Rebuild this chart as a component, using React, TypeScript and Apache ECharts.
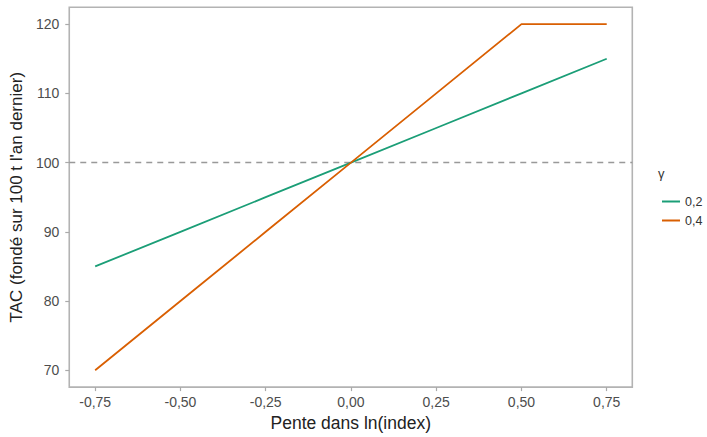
import React, { useEffect, useRef } from "react";
import * as echarts from "echarts";

const xValues = [-0.75, -0.5, -0.25, 0, 0.25, 0.5, 0.75];
const gamma02 = [85, 90, 95, 100, 105, 110, 115];
const gamma04 = [70, 80, 90, 100, 110, 120, 120];
const xTicks = [-0.75, -0.5, -0.25, 0, 0.25, 0.5, 0.75];
const yTicks = [70, 80, 90, 100, 110, 120];
const seriesNames = ["0,2", "0,4"];
const refLine = 100;

const FONT = "Liberation Sans, Arial, sans-serif";

export default function App() {
  const ref = useRef<HTMLDivElement>(null);
  useEffect(() => {
    if (!ref.current) return;
    const chart = echarts.init(ref.current, undefined, { renderer: "svg" });
    const fmt = (v: number) => v.toFixed(2).replace(".", ",");
    chart.setOption({
      animation: false,
      textStyle: { fontFamily: FONT },
      grid: {
        left: 69,
        right: 74.7,
        top: 7.3,
        bottom: 46,
        show: true,
        borderColor: "#b3b3b3",
        borderWidth: 1.6,
        backgroundColor: "#fff",
      },
      xAxis: {
        type: "value",
        min: -0.826,
        max: 0.825,
        name: "Pente dans ln(index)",
        nameLocation: "middle",
        nameGap: 26,
        nameTextStyle: { fontSize: 17.5, color: "#222", fontFamily: FONT },
        axisLine: { show: false, onZero: false },
        axisTick: { show: true, length: 4, lineStyle: { color: "#aaa", width: 1.2 }, customValues: xTicks },
        axisLabel: { customValues: xTicks, formatter: fmt, fontSize: 14, color: "#4d4d4d", margin: 8, fontFamily: FONT },
        splitLine: { show: false },
      },
      yAxis: {
        type: "value",
        min: 67.57,
        max: 122.43,
        name: "TAC (fondé sur 100 t l'an dernier)",
        nameLocation: "middle",
        nameGap: 36.5,
        nameTextStyle: { fontSize: 17, color: "#222", fontFamily: FONT },
        axisLine: { show: false, onZero: false },
        axisTick: { show: true, length: 4, lineStyle: { color: "#aaa", width: 1.2 }, customValues: yTicks },
        axisLabel: { customValues: yTicks, fontSize: 14, color: "#4d4d4d", margin: 10, fontFamily: FONT },
        splitLine: { show: false },
      },
      legend: {
        orient: "vertical",
        left: 662,
        top: 195,
        padding: 0,
        itemWidth: 18,
        itemHeight: 2,
        itemGap: 6,
        icon: "rect",
        textStyle: { fontSize: 12.5, color: "#333", fontFamily: FONT },
        data: seriesNames,
      },
      graphic: [
        {
          type: "text",
          left: 658,
          top: 167,
          style: { text: "γ", fontSize: 13, fill: "#333", fontFamily: FONT },
        },
      ],
      series: [
        {
          name: seriesNames[0],
          type: "line",
          data: xValues.map((x, i) => [x, gamma02[i]]),
          showSymbol: false,
          lineStyle: { color: "#1b9e77", width: 1.8 },
          itemStyle: { color: "#1b9e77" },
          z: 3,
          markLine: {
            silent: true,
            symbol: "none",
            label: { show: false },
            lineStyle: { color: "#999", type: [6, 5], width: 1.4 },
            data: [{ yAxis: refLine }],
            z: 1,
          },
        },
        {
          name: seriesNames[1],
          type: "line",
          data: xValues.map((x, i) => [x, gamma04[i]]),
          showSymbol: false,
          lineStyle: { color: "#d95f02", width: 1.8 },
          itemStyle: { color: "#d95f02" },
          z: 3,
        },
      ],
    });
    return () => chart.dispose();
  }, []);
  return <div ref={ref} style={{ width: 707, height: 437, position: "absolute", left: 0, top: 0 }} />;
}
